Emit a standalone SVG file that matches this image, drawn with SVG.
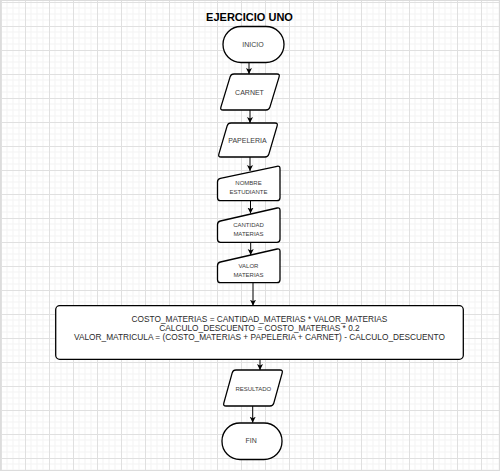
<svg xmlns="http://www.w3.org/2000/svg" width="500" height="471" viewBox="0 0 500 471">
<defs>
<pattern id="grid" patternUnits="userSpaceOnUse" x="1" y="2" width="24" height="24">
<path d="M6,0V24M12,0V24M18,0V24M0,6H24M0,12H24M0,18H24" stroke="#f3f3f3" stroke-width="1" fill="none"/>
<path d="M0.5,0V24M0,0.5H24" stroke="#e0e0e0" stroke-width="1" fill="none"/>
</pattern>
<marker id="arr" markerUnits="userSpaceOnUse" markerWidth="8" markerHeight="8" refX="6" refY="3" orient="auto">
<path d="M0,0 L6,3 L0,6 L1.5,3 Z" fill="#000"/>
</marker>
<style>
.sh{fill:#fff;stroke:#000;stroke-width:1.3}
.cn{stroke:#000;stroke-width:1;fill:none;marker-end:url(#arr)}
.t7{font-family:"Liberation Sans",Arial,sans-serif;font-size:7px;fill:#3a3a3a;text-anchor:middle}
.t6{font-family:"Liberation Sans",Arial,sans-serif;font-size:6px;fill:#3a3a3a;text-anchor:middle}
.t8{font-family:"Liberation Sans",Arial,sans-serif;font-size:8.3px;fill:#2a2a2a;text-anchor:middle}
.ti{font-family:"Liberation Sans",Arial,sans-serif;font-size:11px;font-weight:bold;fill:#000;text-anchor:middle}
</style>
</defs>
<rect x="0" y="0" width="500" height="471" fill="#fff"/>
<rect x="0" y="0" width="500" height="471" fill="url(#grid)"/>
<rect x="0.5" y="0.5" width="499" height="470" fill="none" stroke="#dcdcdc" stroke-width="1"/>
<text class="ti" x="249.5" y="20.5">EJERCICIO UNO</text>
<g id="connectors">
<path class="cn" d="M249,62.5V74"/>
<path class="cn" d="M250,110V123"/>
<path class="cn" d="M250,157V171"/>
<path class="cn" d="M250.5,200.7V213.5"/>
<path class="cn" d="M250.7,242.3V255"/>
<path class="cn" d="M253,282.7V305.7"/>
<path class="cn" d="M260,359.3V370"/>
<path class="cn" d="M252.7,406V422.7"/>
</g>
<g id="inicio">
<rect class="sh" x="223" y="26.5" width="61" height="36" rx="18"/>
<text class="t7" x="253" y="47">INICIO</text>
</g>
<g id="carnet">
<path class="sh" d="M234,74 L277,74 Q280,74 279.1,76.9 L269.9,107.1 Q269,110 266,110 L223,110 Q220,110 220.9,107.1 L230.1,76.9 Q231,74 234,74 Z"/>
<text class="t7" x="249.5" y="94.5">CARNET</text>
</g>
<g id="papeleria">
<path class="sh" d="M231,123 L275,123 Q278,123 277.15,125.88 L268.85,154.12 Q268,157 265,157 L221,157 Q218,157 218.85,154.12 L227.15,125.88 Q228,123 231,123 Z"/>
<text class="t7" x="247.5" y="143">PAPELERIA</text>
</g>
<g id="nombre">
<path class="sh" d="M220.4,178.4 L277.1,166.3 Q280,165.7 280,168.7 L280,197.7 Q280,200.7 277,200.7 L220.5,200.7 Q217.5,200.7 217.5,197.7 L217.5,182 Q217.5,179 220.4,178.4 Z"/>
<text class="t6" x="248.5" y="185">NOMBRE</text>
<text class="t6" x="248.5" y="194">ESTUDIANTE</text>
</g>
<g id="cantidad">
<path class="sh" d="M220.4,221 L277.1,208 Q280,207.3 280,210.3 L280,239.3 Q280,242.3 277,242.3 L220.5,242.3 Q217.5,242.3 217.5,239.3 L217.5,224.7 Q217.5,221.7 220.4,221 Z"/>
<text class="t6" x="248.5" y="227">CANTIDAD</text>
<text class="t6" x="248.5" y="236">MATERIAS</text>
</g>
<g id="valor">
<path class="sh" d="M220.4,262 L277.1,249 Q280,248.3 280,251.3 L280,279.7 Q280,282.7 277,282.7 L220.5,282.7 Q217.5,282.7 217.5,279.7 L217.5,265.7 Q217.5,262.7 220.4,262 Z"/>
<text class="t6" x="248.5" y="268">VALOR</text>
<text class="t6" x="248.5" y="277">MATERIAS</text>
</g>
<g id="proceso">
<rect class="sh" x="55.7" y="305.7" width="407.6" height="53.6" rx="4"/>
<text class="t8" x="259.5" y="322">COSTO_MATERIAS = CANTIDAD_MATERIAS * VALOR_MATERIAS</text>
<text class="t8" x="259.5" y="331">CALCULO_DESCUENTO = COSTO_MATERIAS * 0.2</text>
<text class="t8" x="259.5" y="340">VALOR_MATRICULA = (COSTO_MATERIAS + PAPELERIA + CARNET) - CALCULO_DESCUENTO</text>
</g>
<g id="resultado">
<path class="sh" d="M236,370 L280,370 Q283,370 282.2,372.9 L273.8,403.1 Q273,406 270,406 L226,406 Q223,406 223.8,403.1 L232.2,372.9 Q233,370 236,370 Z"/>
<text class="t6" x="253.3" y="391">RESULTADO</text>
</g>
<g id="fin">
<rect class="sh" x="222" y="423" width="60" height="36.5" rx="18"/>
<text class="t7" x="251.2" y="443">FIN</text>
</g>
</svg>
